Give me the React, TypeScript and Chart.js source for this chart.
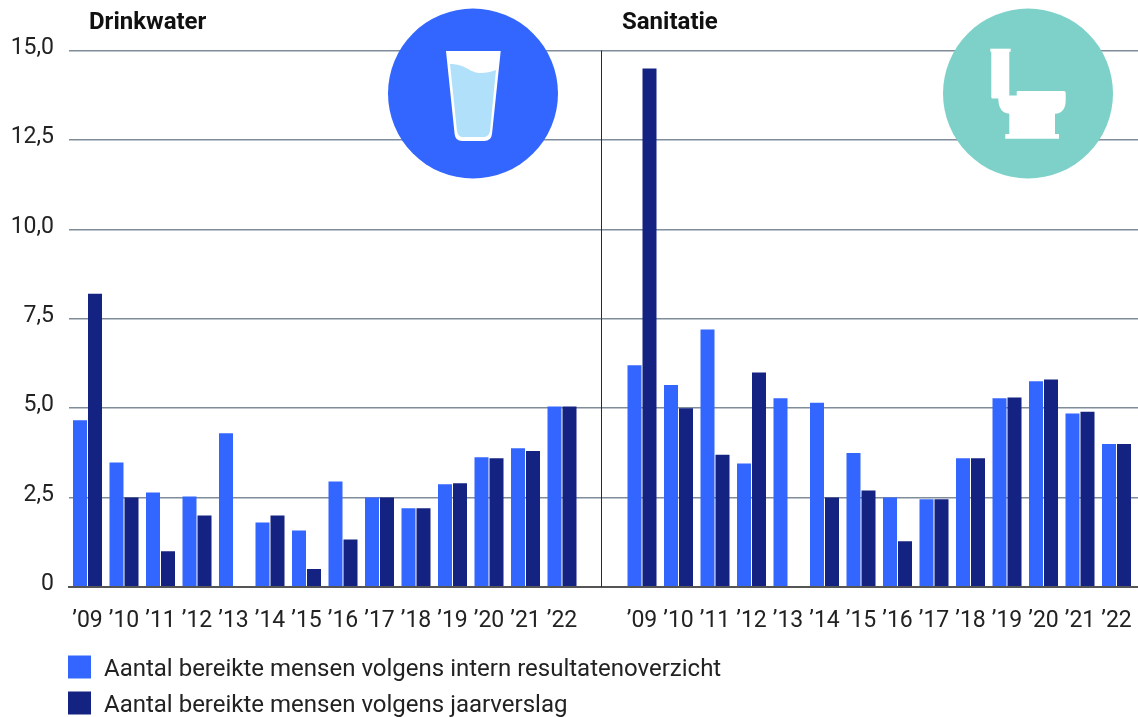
import React, { useEffect, useRef } from "react";
import { Chart, registerables } from "chart.js";

Chart.register(...registerables);

const years = ["’09", "’10", "’11", "’12", "’13", "’14", "’15", "’16", "’17", "’18", "’19", "’20", "’21", "’22"];
const drinkIntern = [4.66, 3.48, 2.64, 2.53, 4.3, 1.8, 1.58, 2.95, 2.5, 2.2, 2.87, 3.63, 3.88, 5.05];
const drinkJaar = [8.2, 2.5, 1.0, 2.0, null, 2.0, 0.5, 1.33, 2.5, 2.2, 2.9, 3.6, 3.8, 5.05];
const sanIntern = [6.2, 5.65, 7.2, 3.45, 5.28, 5.15, 3.75, 2.5, 2.45, 3.6, 5.28, 5.75, 4.85, 4.0];
const sanJaar = [14.5, 5.0, 3.7, 6.0, null, 2.5, 2.7, 1.28, 2.45, 3.6, 5.3, 5.8, 4.9, 4.0];
const seriesNames = [
  "Aantal bereikte mensen volgens intern resultatenoverzicht",
  "Aantal bereikte mensen volgens jaarverslag",
];
const panelTitles = ["Drinkwater", "Sanitatie"];

const FONT = "Roboto";
const BLUE = "#3366ff";
const NAVY = "#142382";
const TEAL = "#7dd1c9";
const SLOT = 36.5;
const SECOND_START = 554.5 / SLOT;
const DIVIDER = 513.5 / SLOT;
const X_MIN = -18.5 / SLOT;
const X_MAX = 1050.5 / SLOT;

const toPoints = (first: (number | null)[], second: (number | null)[]) => [
  ...first.map((y, i) => ({ x: i, y })),
  ...second.map((y, i) => ({ x: i + SECOND_START, y })),
];
const tickPositions = [...years.map((_, i) => i), ...years.map((_, i) => i + SECOND_START)];

const decorations = {
  id: "decorations",
  afterLayout(chart: any) {
    const legend = chart.legend;
    legend.left = 56;
    legend.top = 643;
    if (!legend.__textShifted) {
      legend.__textShifted = true;
      const drawLegend = legend.draw.bind(legend);
      legend.draw = (...args: any[]) => {
        const ctx = legend.ctx;
        const fillText = ctx.fillText;
        ctx.fillText = function (t: string, x: number, y: number, w?: number) {
          return w === undefined
            ? fillText.call(ctx, t, x + 1, y + 3)
            : fillText.call(ctx, t, x + 1, y + 3, w);
        };
        drawLegend(...args);
        delete ctx.fillText;
      };
    }
  },
  afterDraw(chart: any) {
    const { ctx, scales } = chart;
    const dx = scales.x.getPixelForValue(DIVIDER);
    ctx.save();
    ctx.strokeStyle = "#2a2a2a";
    ctx.lineWidth = 1;
    ctx.beginPath();
    ctx.moveTo(Math.round(dx) + 0.5, scales.y.top);
    ctx.lineTo(Math.round(dx) + 0.5, scales.y.bottom);
    ctx.stroke();

    ctx.fillStyle = "#111";
    ctx.font = `bold 24px ${FONT}`;
    ctx.textBaseline = "middle";
    ctx.textAlign = "left";
    ctx.fillText(panelTitles[0], 89, 23);
    ctx.fillText(panelTitles[1], 622, 23);

    // glass badge
    ctx.fillStyle = BLUE;
    ctx.beginPath();
    ctx.arc(473, 93.5, 85, 0, Math.PI * 2);
    ctx.fill();
    ctx.fillStyle = "#fff";
    ctx.beginPath();
    ctx.moveTo(446, 51);
    ctx.lineTo(500.7, 51);
    ctx.lineTo(492, 134);
    ctx.quadraticCurveTo(491.3, 141, 484, 141);
    ctx.lineTo(462, 141);
    ctx.quadraticCurveTo(455.4, 141, 454.6, 134);
    ctx.closePath();
    ctx.fill();
    ctx.fillStyle = "#b0e0fa";
    ctx.beginPath();
    ctx.moveTo(450, 64);
    ctx.bezierCurveTo(466, 64, 470, 73, 480, 73);
    ctx.bezierCurveTo(486, 73, 491, 72, 496, 70);
    ctx.lineTo(490, 131);
    ctx.quadraticCurveTo(489, 137, 483, 137);
    ctx.lineTo(463, 137);
    ctx.quadraticCurveTo(458, 137, 457, 131);
    ctx.closePath();
    ctx.fill();

    // toilet badge
    ctx.fillStyle = TEAL;
    ctx.beginPath();
    ctx.arc(1028, 93.5, 85, 0, Math.PI * 2);
    ctx.fill();
    ctx.fillStyle = "#fff";
    ctx.fillRect(990.3, 48.7, 20.4, 3);
    ctx.beginPath();
    ctx.moveTo(991.3, 51);
    ctx.lineTo(1009.3, 51);
    ctx.lineTo(1009.3, 95.5);
    ctx.lineTo(1016.7, 95.5);
    ctx.lineTo(1016.7, 92);
    ctx.quadraticCurveTo(1016.7, 91, 1018, 91);
    ctx.lineTo(1064, 91);
    ctx.quadraticCurveTo(1065.7, 91, 1065.7, 93);
    ctx.lineTo(1065.7, 100);
    ctx.quadraticCurveTo(1065.7, 113.3, 1055, 113.7);
    ctx.lineTo(1055, 134);
    ctx.lineTo(1059, 134);
    ctx.lineTo(1059, 138.7);
    ctx.lineTo(1005.3, 138.7);
    ctx.lineTo(1005.3, 134);
    ctx.lineTo(1009.3, 134);
    ctx.lineTo(1009.3, 113.7);
    ctx.quadraticCurveTo(998.5, 113, 998.3, 98.5);
    ctx.lineTo(992.5, 98.5);
    ctx.quadraticCurveTo(991.3, 98.5, 991.3, 97);
    ctx.closePath();
    ctx.fill();
    ctx.restore();
  },
};

export default function App() {
  const ref = useRef<HTMLCanvasElement>(null);
  useEffect(() => {
    const chart = new Chart(ref.current!, {
      type: "bar",
      data: {
        datasets: [
          {
            label: seriesNames[0],
            data: toPoints(drinkIntern, sanIntern) as any,
            backgroundColor: BLUE,
            categoryPercentage: 30 / SLOT,
            barPercentage: 14 / 15,
          },
          {
            label: seriesNames[1],
            data: toPoints(drinkJaar, sanJaar) as any,
            backgroundColor: NAVY,
            categoryPercentage: 30 / SLOT,
            barPercentage: 14 / 15,
          },
        ],
      },
      options: {
        responsive: false,
        animation: false,
        layout: { padding: { top: 50.5, left: 0, right: 0, bottom: 0 } },
        plugins: {
          tooltip: { enabled: false },
          title: { display: false },
          legend: {
            position: "bottom",
            align: "start",
            labels: {
              boxWidth: 23,
              boxHeight: 23,
              padding: 12,
              color: "#222",
              font: { family: FONT, size: 24 },
            },
          },
        },
        scales: {
          x: {
            type: "linear",
            min: X_MIN,
            max: X_MAX,
            offset: false,
            afterBuildTicks(scale: any) {
              scale.ticks = tickPositions.map((value) => ({ value }));
            },
            afterFit(scale: any) {
              scale.height = 48;
              scale.paddingLeft = 0;
              scale.paddingRight = 0;
            },
            grid: { display: false, drawTicks: false },
            border: { display: true, color: "#555", width: 2, z: 2 },
            ticks: {
              autoSkip: false,
              maxRotation: 0,
              padding: 20,
              color: "#222",
              font: { family: FONT, size: 23 },
              callback(value: any) {
                const i = tickPositions.indexOf(value);
                return years[i % years.length];
              },
            },
          },
          y: {
            min: 0,
            max: 15,
            afterFit(scale: any) {
              scale.width = 69;
            },
            grid: { color: "#7f8c99", lineWidth: 1.5, drawTicks: false },
            border: { display: false },
            ticks: {
              stepSize: 2.5,
              padding: 15,
              labelOffset: -2.5,
              color: "#222",
              font: { family: FONT, size: 23 },
              callback(value: any) {
                return value === 0 ? "0" : Number(value).toFixed(1).replace(".", ",");
              },
            },
          },
        },
      },
      plugins: [decorations],
    } as any);
    return () => chart.destroy();
  }, []);
  return (
    <div style={{ position: "absolute", left: 0, top: 0, width: 1138, height: 717, overflow: "hidden" }}>
      <canvas ref={ref} width={1138} height={717} style={{ display: "block" }} />
    </div>
  );
}
